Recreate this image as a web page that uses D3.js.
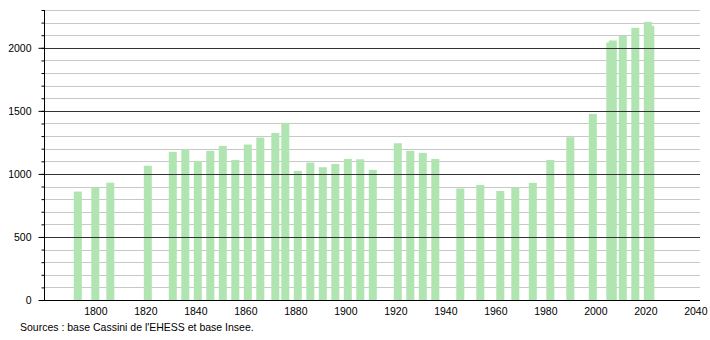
<!DOCTYPE html>
<html>
<head>
<meta charset="utf-8">
<script src="https://cdn.jsdelivr.net/npm/d3@7"></script>
<style>
  html, body { margin: 0; padding: 0; background: #fff; }
  text { font-family: "Liberation Sans", Arial, sans-serif; }
</style>
</head>
<body>
<svg id="chart" width="710" height="340"></svg>
<script>
const years = [1793, 1800, 1806, 1821, 1831, 1836, 1841, 1846, 1851, 1856, 1861, 1866, 1872, 1876,
  1881, 1886, 1891, 1896, 1901, 1906, 1911, 1921, 1926, 1931, 1936, 1946, 1954, 1962, 1968,
  1975, 1982, 1990, 1999, 2006, 2007, 2011, 2016, 2021, 2022];
const population = [860, 895, 930, 1065, 1175, 1196, 1103, 1183, 1222, 1111, 1233, 1288, 1325, 1405,
  1024, 1090, 1053, 1079, 1119, 1116, 1032, 1243, 1183, 1167, 1118, 884, 913, 865, 891,
  929, 1111, 1291, 1476, 2042, 2058, 2095, 2159, 2206, 2175];
const xTicks = [1800, 1820, 1840, 1860, 1880, 1900, 1920, 1940, 1960, 1980, 2000, 2020, 2040];
const yTicks = [0, 500, 1000, 1500, 2000];
const sourceText = "Sources : base Cassini de l'EHESS et base Insee.";

(function () {
const svg = d3.select("#chart");
const mLeft = 44, mRight = 700, mTop = 10, mBottom = 300;

const x = d3.scaleLinear().domain([1780, 2042]).range([45.3, 700.3]);
const y = d3.scaleLinear().domain([0, 2300]).range([mBottom, mTop]);
const barW = 8;

// minor gridlines every 100
const minor = d3.range(100, 2301, 100).filter(v => v % 500 !== 0);
svg.append("g").selectAll("line").data(minor).join("line")
  .attr("x1", mLeft).attr("x2", mRight)
  .attr("y1", d => Math.round(y(d)) + 0.5).attr("y2", d => Math.round(y(d)) + 0.5)
  .attr("stroke", "#c8c8c8").attr("stroke-width", 1);

// bars
svg.append("g").selectAll("rect").data(years).join("rect")
  .attr("x", (d) => x(d) - barW / 2)
  .attr("width", barW)
  .attr("y", (d, i) => y(population[i]))
  .attr("height", (d, i) => mBottom - y(population[i]))
  .attr("fill", "#b0e4b0");

// major gridlines every 500
svg.append("g").selectAll("line").data(yTicks.filter(v => v > 0)).join("line")
  .attr("x1", mLeft).attr("x2", mRight)
  .attr("y1", d => Math.round(y(d)) + 0.5).attr("y2", d => Math.round(y(d)) + 0.5)
  .attr("stroke", "#333").attr("stroke-width", 1);

// y axis with minor ticks
const yAxisMinor = d3.axisLeft(y).tickValues(d3.range(0, 2301, 100)).tickSize(3).tickFormat("");
svg.append("g").attr("transform", `translate(${mLeft + 0.5},0)`).call(yAxisMinor)
  .call(g => g.select(".domain").remove())
  .call(g => g.selectAll("line").attr("stroke", "#000"));
const yAxis = d3.axisLeft(y).tickValues(yTicks).tickSize(6).tickPadding(7).tickFormat(d3.format("d"));
svg.append("g").attr("transform", `translate(${mLeft + 0.5},0)`).call(yAxis)
  .call(g => g.select(".domain").attr("d", `M0,${mTop}V${mBottom}`).attr("stroke", "#000"))
  .call(g => g.selectAll("line").attr("stroke", "#000"))
  .call(g => g.selectAll("text").attr("font-size", "10.5px").attr("fill", "#000")
    .attr("font-family", "'Liberation Sans', Arial, sans-serif"));

// x axis
const xAxis = d3.axisBottom(x).tickValues(xTicks).tickSize(0).tickPadding(7).tickFormat(d3.format("d"));
svg.append("g").attr("transform", `translate(0,${mBottom + 0.5})`).call(xAxis)
  .call(g => g.select(".domain").attr("d", `M${mLeft},0H${mRight}`).attr("stroke", "#000"))
  .call(g => g.selectAll("text").attr("font-size", "10.5px").attr("fill", "#000")
    .attr("font-family", "'Liberation Sans', Arial, sans-serif"));

svg.append("text").attr("x", 20).attr("y", 331)
  .attr("font-size", "10.5px").attr("fill", "#000")
  .text(sourceText);
})();
</script>
</body>
</html>
